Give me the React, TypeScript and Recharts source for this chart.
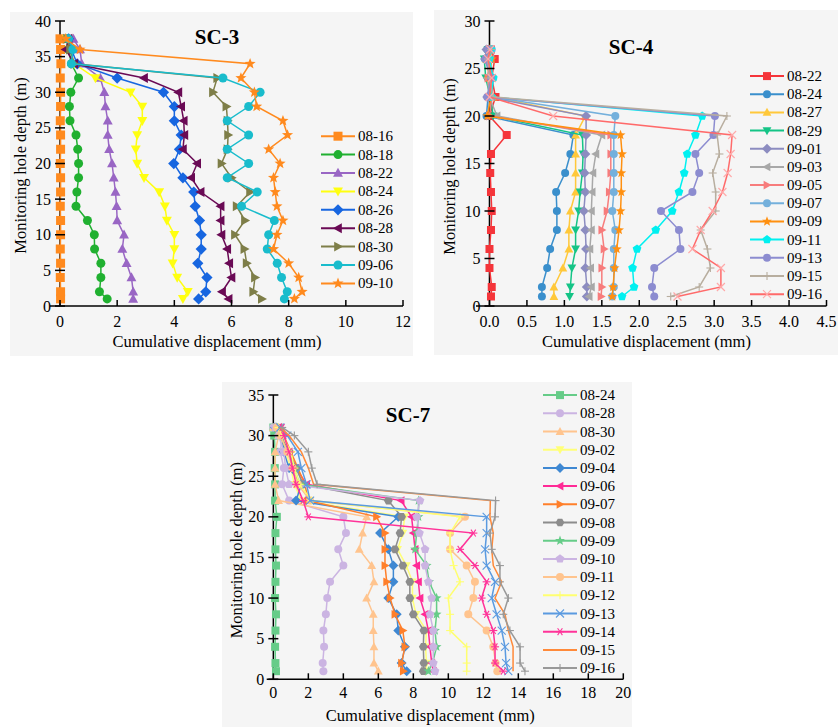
import React from "react";
import { ScatterChart, Scatter, XAxis, YAxis, ReferenceLine, Legend } from "recharts";

const FONT = "'Liberation Serif', 'Times New Roman', 'DejaVu Serif', serif";
const txt = (size: number, bold = false) => ({ fontFamily: FONT, fontSize: size, fontWeight: bold ? 700 : 400 });

// ---------- SC-3 ----------
const sc3Depths = [1, 2, 4, 6, 8, 10, 12, 14, 16, 18, 20, 22, 24, 26, 28, 30, 32, 34, 36, 37.5];
const sc3Dates = ["08-16", "08-18", "08-22", "08-24", "08-26", "08-28", "08-30", "09-06", "09-10"];
const sc3Aug16 = [0.02, 0.02, 0.01, 0.02, 0.01, 0.02, 0.02, 0.01, 0.02, 0.02, 0.01, 0.02, 0.02, 0.01, 0.02, 0.02, 0.01, 0.03, 0.02, 0.0];
const sc3Aug18 = [1.65, 1.38, 1.43, 1.43, 1.21, 1.2, 0.96, 0.56, 0.59, 0.65, 0.65, 0.62, 0.56, 0.35, 0.33, 0.38, 0.65, 0.4, 0.3, 0.25];
const sc3Aug22 = [2.56, 2.56, 2.5, 2.33, 2.18, 2.24, 2.0, 1.98, 1.94, 1.88, 1.82, 1.72, 1.67, 1.67, 1.59, 1.55, 1.41, 0.76, 0.7, 0.47];
const sc3Aug24 = [4.3, 4.47, 4.1, 3.94, 4.0, 4.0, 3.74, 3.67, 3.47, 2.94, 2.7, 2.65, 2.7, 2.88, 2.88, 2.47, 1.24, 0.5, 0.35, 0.25];
const sc3Aug26 = [4.85, 5.1, 5.14, 4.82, 4.94, 4.94, 4.88, 4.73, 4.68, 4.3, 3.98, 4.18, 4.24, 4.0, 4.0, 3.62, 2.0, 0.6, 0.4, 0.3];
const sc3Aug28 = [5.9, 5.67, 6.0, 5.92, 5.85, 5.65, 5.62, 5.62, 4.92, 4.59, 4.8, 4.3, 4.35, 4.33, 4.24, 4.14, 2.94, 0.5, 0.2, 0.3];
const sc3Aug30 = [7.06, 6.76, 6.82, 6.53, 6.45, 6.12, 6.47, 6.18, 6.65, 6.0, 5.65, 5.86, 5.88, 5.86, 5.82, 5.35, 5.5, 0.5, 0.35, 0.25];
const sc3Sep06 = [7.85, 7.95, 7.75, 7.6, 7.25, 7.3, 7.5, 6.35, 6.9, 5.85, 6.6, 5.85, 6.6, 5.85, 6.6, 7.0, 5.7, 0.4, 0.45, 0.3];
const sc3Sep10 = [8.2, 8.47, 8.35, 8.0, 7.47, 7.59, 7.8, 7.59, 7.53, 7.47, 7.7, 7.3, 7.96, 7.8, 6.88, 6.8, 6.33, 6.65, 0.7, 0.2];
const sc3Values = [sc3Aug16, sc3Aug18, sc3Aug22, sc3Aug24, sc3Aug26, sc3Aug28, sc3Aug30, sc3Sep06, sc3Sep10];
const sc3XTicks = [0, 2, 4, 6, 8, 10, 12];
const sc3YTicks = [0, 5, 10, 15, 20, 25, 30, 35, 40];

// ---------- SC-4 ----------
const sc4Depths = [1, 2, 4, 6, 8, 10, 12, 14, 16, 18, 20, 22, 24, 26, 27];
const sc4Dates = ["08-22", "08-24", "08-27", "08-29", "09-01", "09-03", "09-05", "09-07", "09-09", "09-11", "09-13", "09-15", "09-16"];
const sc4Aug22 = [0.02, 0.03, 0.0, 0.0, 0.02, 0.03, 0.02, 0.01, 0.02, 0.23, 0.0, 0.08, 0.03, 0.07, 0.02];
const sc4Aug24 = [0.7, 0.7, 0.77, 0.81, 0.9, 0.9, 0.89, 1.01, 1.08, 1.12, -0.04, -0.02, 0.02, -0.06, -0.03];
const sc4Aug27 = [0.86, 0.86, 0.98, 1.06, 1.06, 1.08, 1.15, 1.15, 1.15, 1.15, 1.28, 0.05, 0.0, -0.04, 0.01];
const sc4Aug29 = [1.07, 1.08, 1.1, 1.15, 1.15, 1.19, 1.21, 1.24, 1.25, 1.24, 0.05, 0.01, -0.05, -0.07, -0.02];
const sc4Sep01 = [1.3, 1.3, 1.28, 1.29, 1.28, 1.26, 1.28, 1.27, 1.28, 1.29, 1.29, -0.03, 0.02, -0.06, -0.04];
const sc4Sep03 = [1.33, 1.36, 1.35, 1.34, 1.36, 1.36, 1.37, 1.38, 1.42, 1.5, 0.1, 0.0, -0.03, 0.02, 0.0];
const sc4Sep05 = [1.49, 1.5, 1.5, 1.53, 1.5, 1.57, 1.6, 1.62, 1.62, 1.62, 0.0, 0.03, -0.02, 0.0, 0.02];
const sc4Sep07 = [1.64, 1.66, 1.66, 1.66, 1.68, 1.64, 1.66, 1.66, 1.66, 1.66, 1.68, 0.02, 0.05, -0.02, 0.03];
const sc4Sep09 = [1.64, 1.65, 1.67, 1.7, 1.73, 1.75, 1.76, 1.76, 1.77, 1.75, -0.03, 0.02, 0.0, 0.03, 0.0];
const sc4Sep11 = [1.77, 1.93, 1.91, 1.97, 2.22, 2.44, 2.53, 2.6, 2.64, 2.75, 2.84, 0.03, 0.05, 0.0, 0.02];
const sc4Sep13 = [2.2, 2.17, 2.2, 2.55, 2.53, 2.29, 2.71, 2.8, 2.75, 2.99, 3.01, -0.03, 0.02, -0.05, -0.01];
const sc4Sep15 = [2.42, 2.8, 2.95, 2.91, 2.82, 3.02, 3.02, 2.98, 3.07, 3.04, 3.17, 0.05, 0.0, -0.02, 0.02];
const sc4Sep16 = [2.51, 3.09, 3.09, 2.71, 2.82, 2.98, 3.11, 3.18, 3.22, 3.24, 0.85, 0.0, 0.03, -0.02, 0.01];
const sc4Values = [sc4Aug22, sc4Aug24, sc4Aug27, sc4Aug29, sc4Sep01, sc4Sep03, sc4Sep05, sc4Sep07, sc4Sep09, sc4Sep11, sc4Sep13, sc4Sep15, sc4Sep16];
const sc4XTicks = [0, 0.5, 1, 1.5, 2, 2.5, 3, 3.5, 4, 4.5];
const sc4YTicks = [0, 5, 10, 15, 20, 25, 30];

// ---------- SC-7 ----------
const sc7Depths = [1, 2, 4, 6, 8, 10, 12, 14, 16, 18, 20, 22, 24, 26, 28, 30, 31];
const sc7Dates = ["08-24", "08-28", "08-30", "09-02", "09-04", "09-06", "09-07", "09-08", "09-09", "09-10", "09-11", "09-12", "09-13", "09-14", "09-15", "09-16"];
const sc7Aug24 = [0.15, 0.12, 0.1, 0.12, 0.15, 0.1, 0.12, 0.15, 0.12, 0.12, 0.2, 0.1, 0.1, 0.08, 0.1, 0.05, 0.0];
const sc7Aug28 = [2.86, 2.82, 2.9, 2.86, 3.0, 3.08, 3.24, 4.0, 3.71, 4.15, 4.0, 0.9, 0.5, 0.6, 0.4, 0.5, 0.0];
const sc7Aug30 = [6.0, 5.75, 5.75, 5.71, 5.71, 5.33, 5.75, 5.62, 4.91, 5.1, 5.33, 0.3, 0.1, 0.1, 0.1, 0.3, 0.0];
const sc7Sep02 = [8.7, 8.75, 8.7, 8.75, 8.15, 7.95, 7.95, 7.6, 7.1, 7.4, 7.5, 1.6, 1.2, 1.0, 0.7, 0.4, 0.2];
const sc7Sep04 = [7.62, 7.33, 7.52, 7.14, 7.05, 6.57, 6.86, 6.86, 6.57, 6.1, 7.14, 1.3, 1.6, 0.9, 0.6, 0.5, 0.1];
const sc7Sep06 = [9.14, 9.05, 8.95, 8.86, 8.67, 8.38, 8.29, 8.19, 8.1, 8.0, 7.9, 7.3, 1.9, 1.3, 0.9, 0.5, 0.3];
const sc7Sep07 = [7.43, 7.33, 7.52, 7.4, 6.95, 6.67, 6.48, 6.38, 6.38, 6.38, 5.9, 2.0, 1.8, 1.4, 1.0, 0.6, 0.3];
const sc7Sep08 = [8.57, 8.6, 8.57, 8.6, 8.0, 7.8, 7.8, 7.4, 6.95, 7.24, 7.33, 6.57, 1.7, 1.3, 0.9, 0.5, 0.2];
const sc7Sep09 = [8.86, 9.1, 9.33, 9.24, 9.33, 9.33, 8.9, 8.76, 8.1, 8.19, 8.29, 8.3, 1.5, 1.2, 0.8, 0.4, 0.2];
const sc7Sep10 = [9.24, 9.14, 9.14, 9.14, 8.95, 9.05, 8.86, 8.67, 8.67, 8.35, 8.19, 8.38, 0.9, 0.7, 0.6, 0.3, 0.1];
const sc7Sep11 = [12.8, 12.7, 12.57, 12.19, 11.14, 11.43, 11.52, 11.05, 10.1, 10.1, 10.95, 2.1, 1.4, 1.1, 0.8, 0.4, 0.2];
const sc7Sep12 = [11.05, 11.05, 11.05, 10.1, 10.1, 10.0, 10.67, 10.3, 10.1, 10.1, 10.67, 2.2, 1.5, 1.2, 1.0, 0.5, 0.3];
const sc7Sep13 = [13.43, 13.3, 13.24, 13.05, 12.76, 12.48, 12.67, 12.19, 12.1, 12.19, 12.19, 2.1, 1.9, 1.6, 1.4, 0.8, 0.4];
const sc7Sep14 = [13.14, 12.67, 12.67, 12.57, 12.19, 11.9, 12.19, 11.52, 10.67, 11.43, 2.0, 1.7, 1.3, 1.1, 0.9, 0.6, 0.5];
const sc7Sep15 = [13.7, 13.7, 13.7, 13.43, 13.24, 12.67, 13.05, 12.57, 12.48, 12.57, 12.38, 12.4, 2.3, 2.0, 1.6, 0.9, 0.4];
const sc7Sep16 = [14.38, 14.1, 14.1, 13.52, 13.14, 13.43, 12.95, 12.95, 12.48, 12.38, 12.67, 12.7, 2.5, 2.2, 2.0, 1.2, 0.5];
const sc7Values = [sc7Aug24, sc7Aug28, sc7Aug30, sc7Sep02, sc7Sep04, sc7Sep06, sc7Sep07, sc7Sep08, sc7Sep09, sc7Sep10, sc7Sep11, sc7Sep12, sc7Sep13, sc7Sep14, sc7Sep15, sc7Sep16];
const sc7XTicks = [0, 2, 4, 6, 8, 10, 12, 14, 16, 18, 20];
const sc7YTicks = [0, 5, 10, 15, 20, 25, 30, 35];

// series styles (colour, marker)
type Style = { color: string; marker: string; mcolor?: string };
const sc3Styles: Style[] = [
  { color: "#ff8a1e", marker: "square" },
  { color: "#20b030", marker: "circle" },
  { color: "#9966c4", marker: "up" },
  { color: "#ffff10", marker: "down" },
  { color: "#1766e0", marker: "diamond" },
  { color: "#6a0a55", marker: "left" },
  { color: "#7e7e48", marker: "right" },
  { color: "#19bccc", marker: "circle" },
  { color: "#ff8a1e", marker: "star" },
];
const sc4Styles: Style[] = [
  { color: "#f5353a", marker: "square" },
  { color: "#3a8fcc", marker: "circle" },
  { color: "#ffc83a", marker: "up" },
  { color: "#14c486", marker: "down" },
  { color: "#8c8cc0", marker: "diamond" },
  { color: "#a8a8a8", marker: "left" },
  { color: "#f77c7c", marker: "right" },
  { color: "#74b0dc", marker: "circle" },
  { color: "#ff9010", marker: "star" },
  { color: "#00f0f0", marker: "pentagon" },
  { color: "#8c8cd0", marker: "circle" },
  { color: "#b8ae9f", marker: "plus" },
  { color: "#ff6a6a", marker: "cross", mcolor: "#ffa8a8" },
];
const sc7Styles: Style[] = [
  { color: "#66cc88", marker: "square" },
  { color: "#cbb4e2", marker: "circle" },
  { color: "#ffc48e", marker: "up" },
  { color: "#ffff78", marker: "down" },
  { color: "#3f88d2", marker: "diamond" },
  { color: "#ff2a96", marker: "left" },
  { color: "#ff7f2a", marker: "right" },
  { color: "#8c8c8c", marker: "hexagon" },
  { color: "#66cc88", marker: "star" },
  { color: "#cbb4e2", marker: "pentagon" },
  { color: "#ffc48e", marker: "circle" },
  { color: "#ffff70", marker: "plus" },
  { color: "#5a9ae0", marker: "cross" },
  { color: "#ff3399", marker: "asterisk" },
  { color: "#ff8a3a", marker: "none" },
  { color: "#999999", marker: "plus" },
];

function Marker({ kind, cx, cy, color, s }: { kind: string; cx: number; cy: number; color: string; s: number }) {
  const h = s / 2;
  const poly = (pts: number[][]) => (
    <polygon points={pts.map((p) => `${cx + p[0] * h},${cy + p[1] * h}`).join(" ")} fill={color} />
  );
  const ngon = (n: number, r: number, rot: number) =>
    Array.from({ length: n }, (_, i) => {
      const a = rot + (i * 2 * Math.PI) / n;
      return [r * Math.cos(a), r * Math.sin(a)];
    });
  switch (kind) {
    case "square":
      return <rect x={cx - h} y={cy - h} width={s} height={s} fill={color} />;
    case "circle":
      return <circle cx={cx} cy={cy} r={h} fill={color} />;
    case "up":
      return poly([[0, -1.15], [1.1, 0.85], [-1.1, 0.85]]);
    case "down":
      return poly([[0, 1.15], [1.1, -0.85], [-1.1, -0.85]]);
    case "left":
      return poly([[-1.15, 0], [0.85, -1.1], [0.85, 1.1]]);
    case "right":
      return poly([[1.15, 0], [-0.85, -1.1], [-0.85, 1.1]]);
    case "diamond":
      return poly([[0, -1.25], [1.25, 0], [0, 1.25], [-1.25, 0]]);
    case "pentagon":
      return poly(ngon(5, 1.15, -Math.PI / 2));
    case "hexagon":
      return poly(ngon(6, 1.1, 0));
    case "star": {
      const pts = Array.from({ length: 10 }, (_, i) => {
        const r = i % 2 === 0 ? 1.3 : 0.55;
        const a = -Math.PI / 2 + (i * Math.PI) / 5;
        return [r * Math.cos(a), r * Math.sin(a)];
      });
      return poly(pts);
    }
    case "plus":
      return (
        <g stroke={color} strokeWidth={1.1}>
          <line x1={cx - h} x2={cx + h} y1={cy} y2={cy} />
          <line x1={cx} x2={cx} y1={cy - h} y2={cy + h} />
        </g>
      );
    case "cross":
      return (
        <g stroke={color} strokeWidth={1.1}>
          <line x1={cx - h} x2={cx + h} y1={cy - h} y2={cy + h} />
          <line x1={cx - h} x2={cx + h} y1={cy + h} y2={cy - h} />
        </g>
      );
    case "asterisk":
      return (
        <g stroke={color} strokeWidth={1.1}>
          <line x1={cx - h} x2={cx + h} y1={cy} y2={cy} />
          <line x1={cx - h * 0.6} x2={cx + h * 0.6} y1={cy - h * 0.85} y2={cy + h * 0.85} />
          <line x1={cx - h * 0.6} x2={cx + h * 0.6} y1={cy + h * 0.85} y2={cy - h * 0.85} />
        </g>
      );
    default:
      return <g />;
  }
}

type PanelProps = {
  title: string;
  left: number;
  top: number;
  width: number;
  height: number;
  margin: { top: number; right: number; bottom: number; left: number };
  yAxisWidth: number;
  xDomain: [number, number];
  xTicks: number[];
  yDomain: [number, number];
  yTicks: number[];
  xFmt: (v: number) => string;
  depths: number[];
  dates: string[];
  values: number[][];
  styles: Style[];
  markerSize: number;
  titleX: number;
  titleY: number;
  legendX: number;
  legendY: number;
  rowH: number;
  xTickDy: number;
  xLabelDy: number;
  yLabelGap: number;
  yLabelDy: number;
};

function Panel(p: PanelProps) {
  const plotW = p.width - p.margin.left - p.margin.right - p.yAxisWidth;
  const zero = (plotW * -p.xDomain[0]) / (p.xDomain[1] - p.xDomain[0]);
  const series = p.dates.map((d, i) => ({
    name: d,
    data: p.depths.map((y, j) => ({ x: p.values[i][j], y })),
    ...p.styles[i],
  }));

  const yTick = (props: any) => {
    const ax = props.x + zero;
    return (
      <g>
        <line x1={ax - 5} x2={ax + 5} y1={props.y} y2={props.y} stroke="#000" strokeWidth={1.5} />
        <text x={ax - 9} y={props.y} textAnchor="end" dominantBaseline="central" style={txt(16)} fill="#000">
          {props.payload.value}
        </text>
      </g>
    );
  };
  const xTick = (props: any) => (
    <g>
      <line x1={props.x} x2={props.x} y1={props.y} y2={props.y - 6} stroke="#000" strokeWidth={1.5} />
      <text x={props.x} y={props.y + p.xTickDy} textAnchor="middle" dominantBaseline="central" style={txt(16)} fill="#000">
        {p.xFmt(props.payload.value)}
      </text>
    </g>
  );
  const yLabel = (props: any) => {
    const vb = props.viewBox;
    const lx = vb.x + vb.width + zero - p.yLabelGap;
    const ly = vb.y + vb.height / 2 + p.yLabelDy;
    return (
      <text x={lx} y={ly} transform={`rotate(-90 ${lx} ${ly})`} textAnchor="middle" dominantBaseline="central" style={txt(16.5)} fill="#000">
        Monitoring hole depth (m)
      </text>
    );
  };
  const xLabel = (props: any) => {
    const vb = props.viewBox;
    return (
      <text x={vb.x + zero + 157} y={vb.y + p.xLabelDy} textAnchor="middle" dominantBaseline="central" style={txt(16.5)} fill="#000">
        Cumulative displacement (mm)
      </text>
    );
  };
  const legend = () => (
    <svg width={95} height={series.length * p.rowH + 4} style={{ display: "block" }}>
      {series.map((s, i) => {
        const cy = i * p.rowH + p.rowH / 2;
        return (
          <g key={s.name}>
            <line x1={0} x2={34} y1={cy} y2={cy} stroke={s.color} strokeWidth={2} />
            <Marker kind={s.marker} cx={17} cy={cy} color={s.mcolor || s.color} s={p.markerSize} />
            <text x={37} y={cy} dominantBaseline="central" style={txt(15)} fill="#000">
              {s.name}
            </text>
          </g>
        );
      })}
    </svg>
  );

  return (
    <div style={{ position: "absolute", left: p.left, top: p.top, width: p.width, height: p.height, background: "#f5f5f5" }}>
      <ScatterChart width={p.width} height={p.height} margin={p.margin} style={{ fontFamily: FONT }}>
        <XAxis
          type="number"
          dataKey="x"
          domain={p.xDomain}
          ticks={p.xTicks}
          interval={0}
          tickSize={0}
          tickMargin={0}
          tickLine={false}
          tick={xTick}
          axisLine={{ stroke: "#000", strokeWidth: 1.5 }}
          height={40}
          label={xLabel}
        />
        <YAxis
          type="number"
          dataKey="y"
          domain={p.yDomain}
          ticks={p.yTicks}
          interval={0}
          tickSize={0}
          tickMargin={0}
          tickLine={false}
          axisLine={false}
          tick={yTick}
          width={p.yAxisWidth}
          label={yLabel}
        />
        <ReferenceLine x={0} stroke="#000" strokeWidth={1.5} />
        {series.map((s) => (
          <Scatter
            key={s.name}
            name={s.name}
            data={s.data}
            fill={s.color}
            line={{ stroke: s.color, strokeWidth: 1.5 }}
            lineType="joint"
            isAnimationActive={false}
            shape={(sp: any) => <Marker kind={s.marker} cx={sp.cx} cy={sp.cy} color={s.mcolor || s.color} s={p.markerSize} />}
          />
        ))}
        <Legend
          layout="vertical"
          align="center"
          verticalAlign="middle"
          content={legend}
          wrapperStyle={{ left: p.legendX, top: p.legendY - p.rowH / 2, width: 95 }}
        />
      </ScatterChart>
      <div
        style={{
          position: "absolute",
          left: p.titleX - 40,
          top: p.titleY - 13,
          width: 80,
          textAlign: "center",
          fontFamily: FONT,
          fontWeight: "bold",
          fontSize: 21,
          lineHeight: "26px",
          color: "#000",
        }}
      >
        {p.title}
      </div>
    </div>
  );
}

export default function App() {
  return (
    <div style={{ position: "absolute", left: 0, top: 0, width: 838, height: 727, background: "#fff" }}>
      <Panel
        title="SC-3"
        left={10}
        top={12}
        width={403}
        height={344}
        margin={{ top: 9, right: 10, bottom: 10, left: 0 }}
        yAxisWidth={40}
        xDomain={[-0.35, 12]}
        xTicks={sc3XTicks}
        yDomain={[0, 40]}
        yTicks={sc3YTicks}
        xFmt={(v) => String(v)}
        depths={sc3Depths}
        dates={sc3Dates}
        values={sc3Values}
        styles={sc3Styles}
        markerSize={9}
        titleX={207}
        titleY={25}
        legendX={311}
        legendY={124}
        rowH={18.4}
        xTickDy={15}
        xLabelDy={35}
        yLabelGap={40}
        yLabelDy={2}
      />
      <Panel
        title="SC-4"
        left={434}
        top={10}
        width={404}
        height={345}
        margin={{ top: 11, right: 11.5, bottom: 9, left: 0 }}
        yAxisWidth={42}
        xDomain={[-0.18, 4.5]}
        xTicks={sc4XTicks}
        yDomain={[0, 30]}
        yTicks={sc4YTicks}
        xFmt={(v) => v.toFixed(1)}
        depths={sc4Depths}
        dates={sc4Dates}
        values={sc4Values}
        styles={sc4Styles}
        markerSize={8}
        titleX={197}
        titleY={37}
        legendX={316}
        legendY={66}
        rowH={18.17}
        xTickDy={15}
        xLabelDy={35}
        yLabelGap={40}
        yLabelDy={3}
      />
      <Panel
        title="SC-7"
        left={222}
        top={382}
        width={410}
        height={345}
        margin={{ top: 13, right: 8.7, bottom: 7.7, left: 0 }}
        yAxisWidth={44.7}
        xDomain={[-0.38, 20]}
        xTicks={sc7XTicks}
        yDomain={[0, 35]}
        yTicks={sc7YTicks}
        xFmt={(v) => String(v)}
        depths={sc7Depths}
        dates={sc7Dates}
        values={sc7Values}
        styles={sc7Styles}
        markerSize={8}
        titleX={186}
        titleY={33}
        legendX={321}
        legendY={13}
        rowH={18.2}
        xTickDy={13}
        xLabelDy={36}
        yLabelGap={37}
        yLabelDy={13}
      />
    </div>
  );
}
